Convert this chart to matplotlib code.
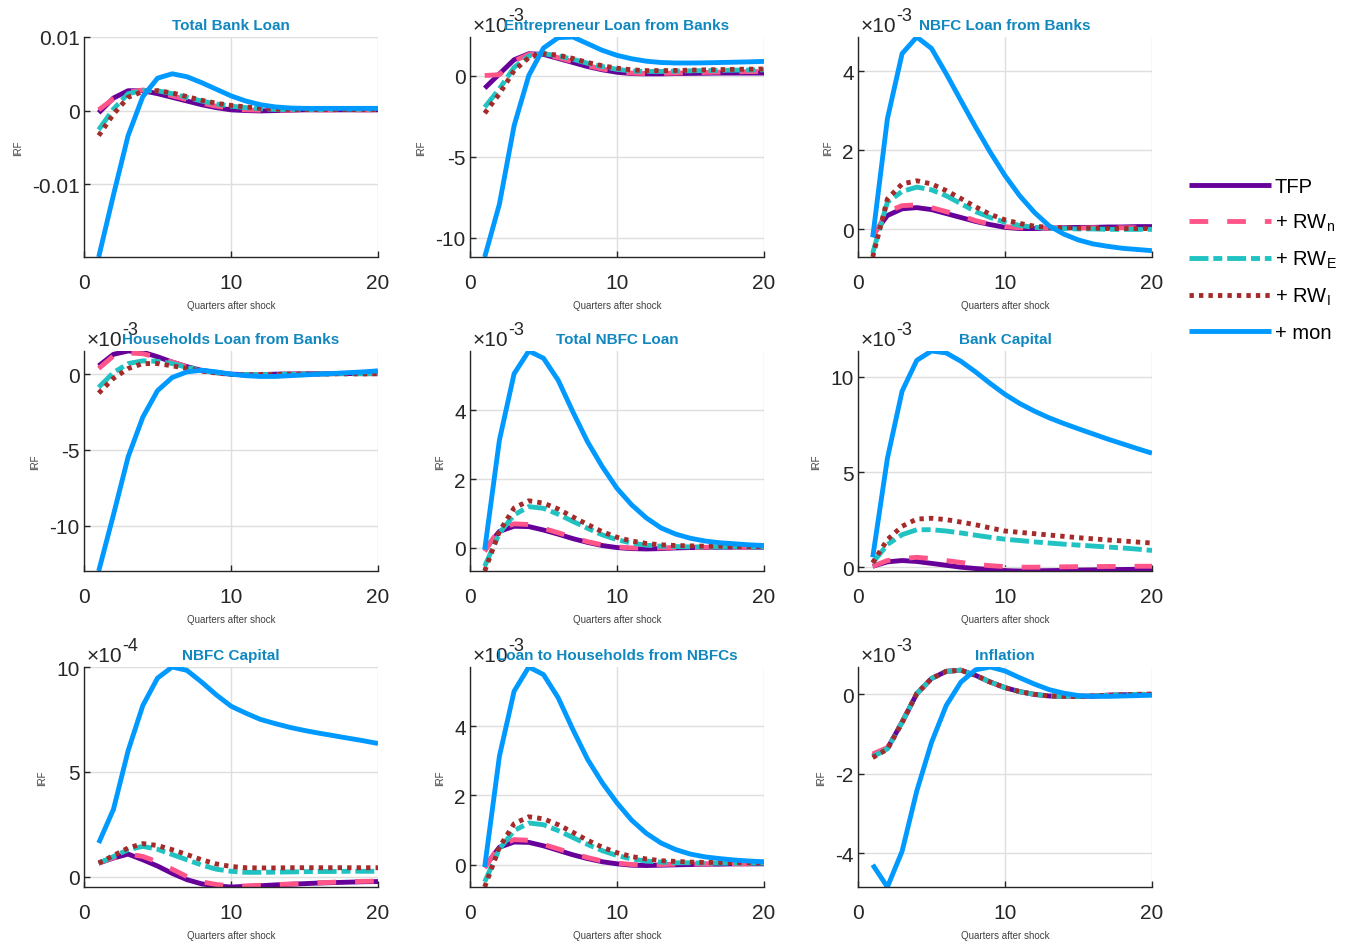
import numpy as np
import matplotlib
matplotlib.use("Agg")
import matplotlib.pyplot as plt
from matplotlib.ticker import MultipleLocator, FuncFormatter

# Impulse responses, quarters 1..20
# each panel: [TFP, +RW_n, +RW_E, +RW_I, +mon]
quarters = np.arange(1, 21)

total_bank_loan = [
    [-0.0003, 0.0017, 0.0027, 0.0027, 0.0023, 0.0018, 0.0013, 0.0008, 0.0004, 0.0001,
     0.0, -0.00005, 0.0, 0.00005, 0.0001, 0.0001, 0.0001, 0.0001, 0.0001, 0.0001],
    [0.0001, 0.0016, 0.0025, 0.0028, 0.0025, 0.0020, 0.0015, 0.0010, 0.0006, 0.0003,
     0.0001, 0.00005, 0.00005, 0.0001, 0.0001, 0.0001, 0.0001, 0.0001, 0.0001, 0.0001],
    [-0.0026, 0.0002, 0.0023, 0.0027, 0.0027, 0.0023, 0.0018, 0.0013, 0.0009, 0.0006,
     0.0004, 0.00025, 0.00015, 0.00015, 0.00015, 0.00015, 0.0002, 0.0002, 0.0002, 0.0002],
    [-0.0034, -0.0005, 0.0018, 0.0026, 0.0027, 0.0024, 0.0019, 0.0014, 0.0010, 0.0007,
     0.0005, 0.0003, 0.0002, 0.00015, 0.00015, 0.00015, 0.00015, 0.00015, 0.00015, 0.00015],
    [-0.0199, -0.0115, -0.0034, 0.0019, 0.0044, 0.0050, 0.0046, 0.0038, 0.0029, 0.0020,
     0.0013, 0.0008, 0.0005, 0.00035, 0.0003, 0.0003, 0.0003, 0.0003, 0.0003, 0.0003],
]

entrepreneur_loan = [
    [-0.78, 0.10, 0.97, 1.34, 1.30, 1.05, 0.80, 0.55, 0.35, 0.20,
     0.12, 0.10, 0.10, 0.12, 0.13, 0.14, 0.15, 0.15, 0.15, 0.15],
    [0.0, 0.05, 0.90, 1.30, 1.30, 1.10, 0.85, 0.60, 0.40, 0.25,
     0.15, 0.12, 0.13, 0.15, 0.17, 0.19, 0.21, 0.22, 0.24, 0.25],
    [-1.95, -0.82, 0.50, 1.20, 1.35, 1.20, 1.00, 0.75, 0.55, 0.38,
     0.28, 0.25, 0.25, 0.27, 0.29, 0.30, 0.32, 0.33, 0.34, 0.35],
    [-2.32, -1.13, 0.30, 1.10, 1.35, 1.25, 1.05, 0.80, 0.60, 0.45,
     0.35, 0.30, 0.30, 0.31, 0.33, 0.35, 0.36, 0.38, 0.39, 0.40],
    [-11.17, -7.92, -3.09, 0.00, 1.69, 2.33, 2.37, 1.96, 1.55, 1.24,
     1.03, 0.88, 0.80, 0.77, 0.77, 0.78, 0.80, 0.82, 0.84, 0.87],
]

nbfc_loan_banks = [
    [-0.15, 0.35, 0.52, 0.55, 0.50, 0.40, 0.30, 0.20, 0.12, 0.05,
     0.02, 0.02, 0.03, 0.04, 0.05, 0.05, 0.06, 0.06, 0.07, 0.07],
    [-0.20, 0.45, 0.60, 0.62, 0.55, 0.45, 0.35, 0.22, 0.13, 0.07,
     0.04, 0.03, 0.03, 0.03, 0.03, 0.04, 0.04, 0.04, 0.04, 0.04],
    [-0.60, 0.69, 0.96, 1.07, 1.00, 0.85, 0.65, 0.45, 0.30, 0.18,
     0.10, 0.05, 0.03, 0.02, 0.01, 0.01, 0.0, 0.0, 0.0, 0.0],
    [-0.70, 0.77, 1.15, 1.23, 1.15, 0.98, 0.78, 0.57, 0.38, 0.24,
     0.15, 0.08, 0.05, 0.04, 0.03, 0.03, 0.02, 0.02, 0.02, 0.02],
    [-0.20, 2.80, 4.45, 4.87, 4.58, 3.94, 3.26, 2.59, 1.95, 1.36,
     0.85, 0.43, 0.09, -0.12, -0.27, -0.37, -0.43, -0.48, -0.51, -0.54],
]

household_loan_banks = [
    [0.55, 1.31, 1.53, 1.45, 1.15, 0.80, 0.50, 0.25, 0.10, 0.00,
     -0.03, -0.03, 0.0, 0.01, 0.02, 0.03, 0.04, 0.04, 0.05, 0.05],
    [0.37, 1.20, 1.40, 1.35, 1.10, 0.80, 0.50, 0.25, 0.10, 0.00,
     -0.02, -0.02, 0.0, 0.01, 0.02, 0.02, 0.03, 0.03, 0.03, 0.03],
    [-0.87, 0.10, 0.70, 0.88, 0.85, 0.70, 0.45, 0.25, 0.10, 0.00,
     -0.03, -0.03, -0.01, 0.0, 0.01, 0.02, 0.02, 0.03, 0.03, 0.03],
    [-1.25, -0.28, 0.37, 0.70, 0.70, 0.55, 0.38, 0.20, 0.08, -0.02,
     -0.05, -0.04, -0.02, 0.0, 0.01, 0.01, 0.02, 0.02, 0.02, 0.02],
    [-13.0, -9.3, -5.47, -2.84, -1.09, -0.22, 0.15, 0.26, 0.15, 0.0,
     -0.10, -0.15, -0.15, -0.10, -0.05, 0.0, 0.05, 0.10, 0.15, 0.22],
]

total_nbfc_loan = [
    [-0.05, 0.48, 0.63, 0.62, 0.52, 0.40, 0.27, 0.16, 0.07, 0.01,
     -0.02, -0.03, -0.02, 0.0, 0.01, 0.01, 0.02, 0.02, 0.02, 0.02],
    [-0.10, 0.55, 0.70, 0.68, 0.57, 0.44, 0.31, 0.18, 0.09, 0.03,
     0.0, -0.01, 0.0, 0.01, 0.01, 0.02, 0.02, 0.02, 0.02, 0.02],
    [-0.53, 0.43, 0.96, 1.20, 1.15, 0.98, 0.77, 0.57, 0.38, 0.24,
     0.14, 0.08, 0.05, 0.04, 0.03, 0.03, 0.03, 0.03, 0.03, 0.03],
    [-0.67, 0.48, 1.16, 1.37, 1.30, 1.13, 0.90, 0.68, 0.47, 0.31,
     0.20, 0.13, 0.09, 0.07, 0.06, 0.05, 0.05, 0.04, 0.04, 0.04],
    [-0.05, 3.13, 5.06, 5.72, 5.51, 4.87, 3.95, 3.08, 2.36, 1.73,
     1.25, 0.87, 0.58, 0.40, 0.28, 0.20, 0.15, 0.12, 0.09, 0.07],
]

bank_capital = [
    [0.05, 0.28, 0.35, 0.30, 0.20, 0.10, 0.0, -0.07, -0.12, -0.18,
     -0.20, -0.19, -0.18, -0.17, -0.15, -0.14, -0.13, -0.12, -0.11, -0.10],
    [0.05, 0.35, 0.45, 0.52, 0.45, 0.35, 0.25, 0.15, 0.08, 0.03,
     0.0, 0.0, 0.01, 0.02, 0.03, 0.03, 0.04, 0.04, 0.05, 0.05],
    [0.23, 1.19, 1.71, 1.97, 1.97, 1.90, 1.80, 1.68, 1.57, 1.47,
     1.40, 1.33, 1.27, 1.21, 1.16, 1.11, 1.06, 1.01, 0.95, 0.88],
    [0.23, 1.45, 2.15, 2.53, 2.57, 2.50, 2.37, 2.23, 2.06, 1.90,
     1.83, 1.76, 1.69, 1.62, 1.55, 1.49, 1.43, 1.38, 1.32, 1.27],
    [0.52, 5.72, 9.25, 10.87, 11.36, 11.26, 10.82, 10.26, 9.65, 9.08,
     8.60, 8.20, 7.85, 7.55, 7.27, 7.00, 6.73, 6.48, 6.23, 5.99],
]

nbfc_capital = [
    [0.64, 0.88, 1.07, 0.80, 0.50, 0.15, -0.15, -0.35, -0.45, -0.50,
     -0.47, -0.44, -0.40, -0.37, -0.34, -0.31, -0.29, -0.27, -0.25, -0.24],
    [0.64, 0.90, 1.07, 0.96, 0.70, 0.35, 0.0, -0.25, -0.38, -0.45,
     -0.45, -0.42, -0.39, -0.36, -0.33, -0.30, -0.27, -0.25, -0.23, -0.22],
    [0.64, 0.95, 1.28, 1.44, 1.30, 1.05, 0.80, 0.55, 0.35, 0.25,
     0.20, 0.20, 0.21, 0.22, 0.23, 0.24, 0.24, 0.25, 0.25, 0.25],
    [0.64, 1.00, 1.36, 1.57, 1.48, 1.28, 1.05, 0.80, 0.60, 0.48,
     0.42, 0.41, 0.41, 0.42, 0.42, 0.42, 0.42, 0.42, 0.42, 0.42],
    [1.60, 3.20, 6.00, 8.16, 9.47, 10.0, 9.84, 9.28, 8.67, 8.13,
     7.80, 7.50, 7.30, 7.12, 6.97, 6.84, 6.72, 6.60, 6.48, 6.35],
]

household_loan_nbfc = [
    [-0.07, 0.50, 0.65, 0.64, 0.54, 0.41, 0.28, 0.17, 0.08, 0.02,
     -0.02, -0.03, -0.02, -0.01, 0.0, 0.01, 0.01, 0.02, 0.02, 0.02],
    [-0.10, 0.55, 0.72, 0.70, 0.58, 0.45, 0.32, 0.20, 0.10, 0.04,
     0.0, -0.01, 0.0, 0.01, 0.01, 0.02, 0.02, 0.02, 0.02, 0.02],
    [-0.50, 0.45, 0.98, 1.20, 1.15, 0.98, 0.78, 0.58, 0.40, 0.26,
     0.16, 0.10, 0.07, 0.05, 0.05, 0.04, 0.04, 0.04, 0.04, 0.04],
    [-0.65, 0.50, 1.18, 1.38, 1.32, 1.15, 0.93, 0.70, 0.50, 0.34,
     0.23, 0.16, 0.11, 0.09, 0.07, 0.06, 0.06, 0.05, 0.05, 0.05],
    [-0.07, 3.13, 5.01, 5.71, 5.49, 4.82, 3.90, 3.04, 2.36, 1.78,
     1.28, 0.90, 0.62, 0.43, 0.30, 0.22, 0.17, 0.13, 0.10, 0.08],
]

inflation = [
    [-1.55, -1.36, -0.70, 0.02, 0.40, 0.58, 0.61, 0.48, 0.31, 0.17,
     0.07, 0.0, -0.04, -0.05, -0.05, -0.04, -0.02, -0.01, 0.0, 0.0],
    [-1.50, -1.34, -0.69, 0.02, 0.40, 0.58, 0.61, 0.48, 0.31, 0.17,
     0.07, 0.0, -0.04, -0.05, -0.05, -0.04, -0.02, -0.01, 0.0, 0.0],
    [-1.57, -1.37, -0.70, 0.02, 0.40, 0.58, 0.61, 0.48, 0.31, 0.17,
     0.07, 0.0, -0.04, -0.05, -0.05, -0.04, -0.02, -0.01, 0.0, 0.0],
    [-1.59, -1.38, -0.71, 0.02, 0.40, 0.58, 0.61, 0.48, 0.31, 0.17,
     0.07, 0.0, -0.04, -0.05, -0.05, -0.04, -0.02, -0.01, 0.0, 0.01],
    [-4.29, -4.85, -3.95, -2.43, -1.21, -0.28, 0.31, 0.62, 0.69, 0.59,
     0.42, 0.26, 0.12, 0.03, -0.03, -0.05, -0.05, -0.04, -0.03, -0.02],
]

panels = [total_bank_loan, entrepreneur_loan, nbfc_loan_banks,
          household_loan_banks, total_nbfc_loan, bank_capital,
          nbfc_capital, household_loan_nbfc, inflation]
titles = ["Total Bank Loan", "Entrepreneur Loan from Banks", "NBFC Loan from Banks",
          "Households Loan from Banks", "Total NBFC Loan", "Bank Capital",
          "NBFC Capital", "Loan to Households from NBFCs", "Inflation"]
exponents = [0, -3, -3, -3, -3, -3, -4, -3, -3]
ytick_steps = [0.01, 5, 2, 5, 2, 5, 5, 2, 2]
ytop_fixed = [0.01, None, None, None, None, None, None, None, None]

labels = ["TFP", r"+ RW$_\mathrm{n}$", r"+ RW$_\mathrm{E}$", r"+ RW$_\mathrm{I}$", "+ mon"]
colors = ["#660099", "#ff5588", "#20c2c2", "#a52a2a", "#0099ff"]
styles = ["-", (0, (3.85, 3.9)), (0, (3.9, 1.0, 1.85, 1.0)), (0, (0.9, 1.05)), "-"]

plt.rcParams.update({
    "font.family": "Liberation Sans",
    "mathtext.fontset": "custom",
    "mathtext.rm": "Liberation Sans",
    "mathtext.it": "Liberation Sans:italic",
    "mathtext.bf": "Liberation Sans:bold",
    "axes.unicode_minus": False,
})

W, H = 1351, 945
fig = plt.figure(figsize=(W / 100, H / 100), dpi=100)

col_left = [84, 470, 858]
row_top = [38, 352, 668]
ax_w, ax_h = 294, 220

fmt = FuncFormatter(lambda v, p: "%g" % round(v, 10))

for k, data in enumerate(panels):
    r, c = divmod(k, 3)
    ax = fig.add_axes([col_left[c] / W, 1 - (row_top[r] + ax_h) / H, ax_w / W, ax_h / H])
    for s in range(5):
        ax.plot(quarters, data[s], color=colors[s], linestyle=styles[s], lw=3.5,
                dash_capstyle="butt", solid_capstyle="butt", label=labels[s])

    lo = min(min(s) for s in data)
    hi = max(max(s) for s in data)
    if ytop_fixed[k] is not None:
        hi = ytop_fixed[k]
    ax.set_xlim(0, 20)
    ax.set_ylim(lo, hi)
    ax.xaxis.set_major_locator(MultipleLocator(10))
    ax.yaxis.set_major_locator(MultipleLocator(ytick_steps[k]))
    ax.yaxis.set_major_formatter(fmt)

    ax.grid(True, color="#dedede", lw=1.0)
    ax.set_axisbelow(True)
    for side in ["top", "right"]:
        ax.spines[side].set_visible(False)
    for side in ["left", "bottom"]:
        ax.spines[side].set_color("#262626")
        ax.spines[side].set_linewidth(1.0)
    ax.tick_params(direction="in", length=4, width=1.0, colors="#262626", labelsize=15)
    ax.tick_params(axis="x", pad=11.5)
    ax.tick_params(axis="y", pad=3)

    ax.set_xlabel("Quarters after shock", fontsize=7, color="#404040", labelpad=6)
    ax.set_ylabel("IRF", fontsize=7, color="#404040", labelpad=6.5)
    ax.set_title(titles[k], fontsize=11, fontweight="bold", color="#1088bf", pad=6)

    # multiplier drawn like a superscripted power of ten
    if exponents[k] != 0:
        base = ax.annotate("\u00d710", xy=(0, 1), xycoords="axes fraction",
                           xytext=(2, 4.3), textcoords="offset points",
                           ha="left", va="baseline", fontsize=15, color="#262626")
        ax.annotate("%d" % exponents[k], xy=(1, 0.8), xycoords=base,
                    xytext=(0, 0), textcoords="offset points",
                    ha="left", va="baseline", fontsize=13, color="#262626")

    if k == 0:
        handles = ax.get_lines()

fig.legend(handles, labels, loc="upper left", bbox_to_anchor=(1189 / W, 1 - 178 / H),
           frameon=False, fontsize=14.5, handlelength=4.05, handletextpad=0.22,
           labelspacing=0.78, borderpad=0, borderaxespad=0)

fig.savefig("out.png", dpi=100, facecolor="white")
